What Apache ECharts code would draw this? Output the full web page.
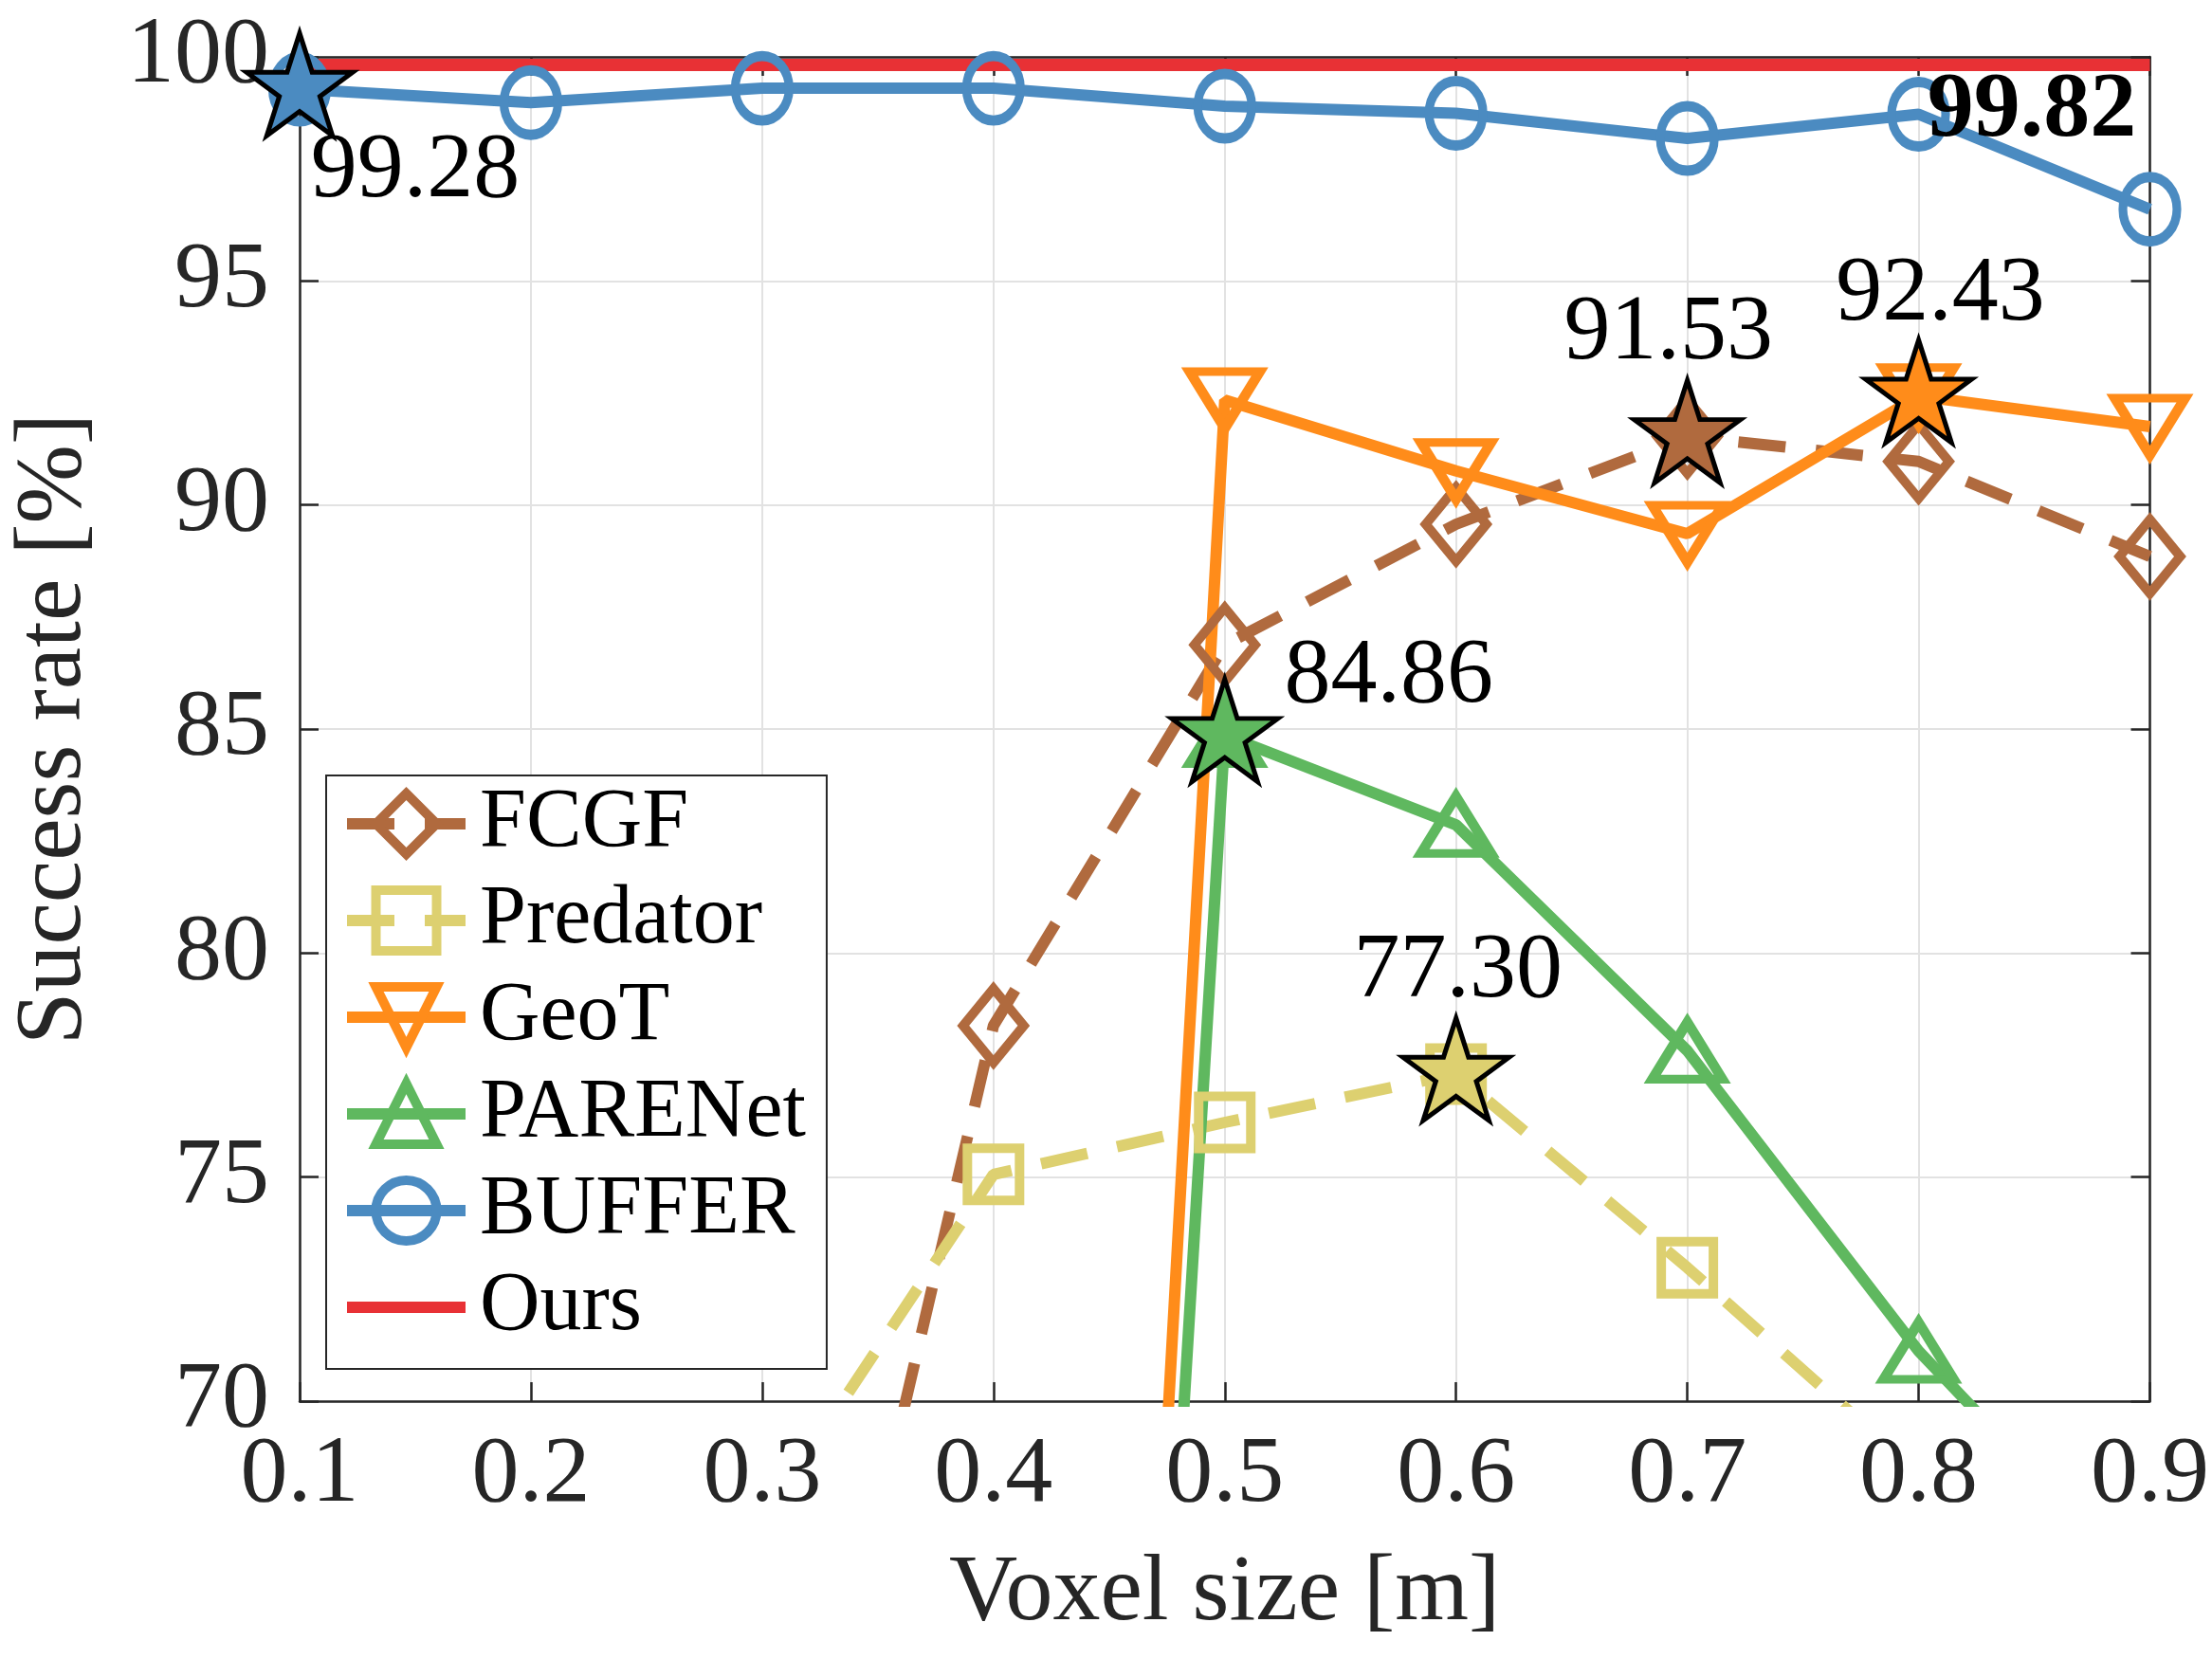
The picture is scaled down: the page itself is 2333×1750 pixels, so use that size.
<!DOCTYPE html>
<html>
<head>
<meta charset="utf-8">
<script src="https://cdn.jsdelivr.net/npm/echarts@6/dist/echarts.min.js"></script>
<style>
html, body { margin: 0; padding: 0; background: #fff; }
#main { width: 2333px; height: 1750px; }
</style>
</head>
<body>
<div id="main"></div>
<script>
// 数据
const voxelSizes = [0.1, 0.2, 0.3, 0.4, 0.5, 0.6, 0.7, 0.8, 0.9];
const fcgf     = [null, null, 56.3, 78.38, 86.88, 89.57, 91.53, 90.97, 88.85];
const predator = [null, null, 67.3, 75.06, 76.22, 77.30, 72.98, 68.4, null];
const geot     = [null, null, null, 0, 92.34, 90.76, 89.36, 92.43, 91.75];
const parenet  = [null, null, null, 0, 84.86, 82.86, 77.82, 71.12, 65.7];
const buffer   = [99.28, 98.98, 99.30, 99.30, 98.90, 98.74, 98.18, 98.72, 96.60];
const ours     = [99.82, 99.82, 99.82, 99.82, 99.82, 99.82, 99.82, 99.82, 99.82];

// 每条曲线的最优点（五角星）所在的下标
const bestIndex = { FCGF: 6, Predator: 5, GeoT: 7, PARENet: 4, BUFFER: 0 };
// "Ours" 数值标注的位置
const oursNoteAt = [0.849, 98.79];

const FONT = '"Liberation Serif", "DejaVu Serif", serif';
const AXIS_COLOR = '#262626';
const STAR = 'path://M0,-100 L22.45,-30.9 L95.11,-30.9 L36.33,11.8 L58.78,80.9 L0,38.2 L-58.78,80.9 L-36.33,11.8 L-95.11,-30.9 L-22.45,-30.9 Z';

const pairs = arr => voxelSizes.map((x, i) => [x, arr[i]]);

function starMark(name, values, color, labelOffset) {
    const i = bestIndex[name];
    return {
        symbol: STAR,
        symbolSize: [112, 108],
        symbolOffset: [0, -5],
        z: 10,
        itemStyle: { color: color, borderColor: '#000', borderWidth: 5 },
        label: {
            show: true,
            position: 'inside',
            offset: labelOffset,
            formatter: p => p.value.toFixed(2),
            fontFamily: FONT,
            fontSize: 98,
            color: '#000'
        },
        data: [{ coord: [voxelSizes[i], values[i]], value: values[i] }]
    };
}

function lineSeries(name, values, color, symbol, size, dashed, rotate, labelOffset) {
    return {
        name: name,
        type: 'line',
        data: pairs(values),
        symbol: symbol,
        symbolSize: size,
        symbolRotate: rotate || 0,
        lineStyle: { color: color, width: 12, type: dashed ? [50, 32] : 'solid' },
        itemStyle: { color: 'rgba(255,255,255,0)', borderColor: color, borderWidth: 10 },
        emphasis: { disabled: true },
        markPoint: starMark(name, values, color, labelOffset)
    };
}

const myChart = echarts.init(document.getElementById('main'));

const axisLine = { show: true, onZero: false, lineStyle: { color: AXIS_COLOR, width: 2.5 } };
const axisTick = { show: true, inside: true, length: 20, lineStyle: { color: AXIS_COLOR, width: 2.5 } };
const splitLine = { show: true, lineStyle: { color: '#e2e2e2', width: 2 } };

myChart.setOption({
    animation: false,
    backgroundColor: '#fff',
    grid: { left: 311, right: 64, top: 60, bottom: 272 },
    legend: {
        orient: 'vertical',
        left: 344,
        top: 818,
        itemWidth: 125,
        itemHeight: 80,
        itemGap: 14,
        padding: [7, 22, 21, 16],
        backgroundColor: '#fff',
        borderColor: AXIS_COLOR,
        borderWidth: 2,
        borderRadius: 0,
        lineStyle: { width: 12 },
        itemStyle: { borderWidth: 10 },
        textStyle: {
            fontFamily: FONT,
            fontSize: 88,
            color: '#000',
            padding: [0, 0, 0, 10]
        },
        data: ['FCGF', 'Predator', 'GeoT', 'PARENet', 'BUFFER',
            { name: 'Ours', icon: 'path://M0,0 H125 V12 H0 Z', itemStyle: { borderWidth: 0 } }]
    },
    xAxis: [{
        type: 'value',
        min: 0.1,
        max: 0.9,
        interval: 0.1,
        position: 'bottom',
        name: 'Voxel size [m]',
        nameLocation: 'middle',
        nameGap: 154,
        nameTextStyle: { fontFamily: FONT, fontSize: 100, color: AXIS_COLOR },
        axisLine: axisLine,
        axisTick: axisTick,
        axisLabel: {
            margin: 29,
            fontFamily: FONT,
            fontSize: 100,
            color: AXIS_COLOR,
            formatter: v => v.toFixed(1)
        },
        splitLine: splitLine
    }, {
        type: 'value',
        min: 0.1,
        max: 0.9,
        interval: 0.1,
        position: 'top',
        axisLine: axisLine,
        axisTick: axisTick,
        axisLabel: { show: false },
        splitLine: { show: false }
    }],
    yAxis: [{
        type: 'value',
        min: 70,
        max: 100,
        interval: 5,
        position: 'left',
        name: 'Success rate [%]',
        nameLocation: 'middle',
        nameGap: 208,
        nameTextStyle: { fontFamily: FONT, fontSize: 100, color: AXIS_COLOR },
        axisLine: axisLine,
        axisTick: axisTick,
        axisLabel: { margin: 32, fontFamily: FONT, fontSize: 100, color: AXIS_COLOR },
        splitLine: splitLine
    }, {
        type: 'value',
        min: 70,
        max: 100,
        interval: 5,
        position: 'right',
        axisLine: axisLine,
        axisTick: axisTick,
        axisLabel: { show: false },
        splitLine: { show: false }
    }],
    series: [
        lineSeries('FCGF', fcgf, '#B06A3E', 'diamond', [64, 78], true, 0, [-20, -103]),
        lineSeries('Predator', predator, '#DDD070', 'rect', [55, 55], true, 0, [2, -103]),
        lineSeries('GeoT', geot, '#FF8C1A', 'triangle', [74, 60], false, 180, [23, -102]),
        lineSeries('PARENet', parenet, '#5FB85F', 'triangle', [74, 60], false, 0, [173, -56]),
        lineSeries('BUFFER', buffer, '#4B8BC1', 'circle', [57, 68], false, 0, [122, 92]),
        {
            name: 'Ours',
            type: 'line',
            data: pairs(ours),
            symbol: 'none',
            lineStyle: { color: '#E83135', width: 13 },
            itemStyle: { color: '#E83135' },
            emphasis: { disabled: true },
            markPoint: {
                symbol: 'circle',
                symbolSize: 0,
                z: 10,
                label: {
                    show: true,
                    position: 'inside',
                    formatter: () => ours[0].toFixed(2),
                    fontFamily: FONT,
                    fontSize: 98,
                    fontWeight: 'bold',
                    color: '#000'
                },
                data: [{ coord: oursNoteAt, value: ours[0] }]
            }
        }
    ]
});
</script>
</body>
</html>
